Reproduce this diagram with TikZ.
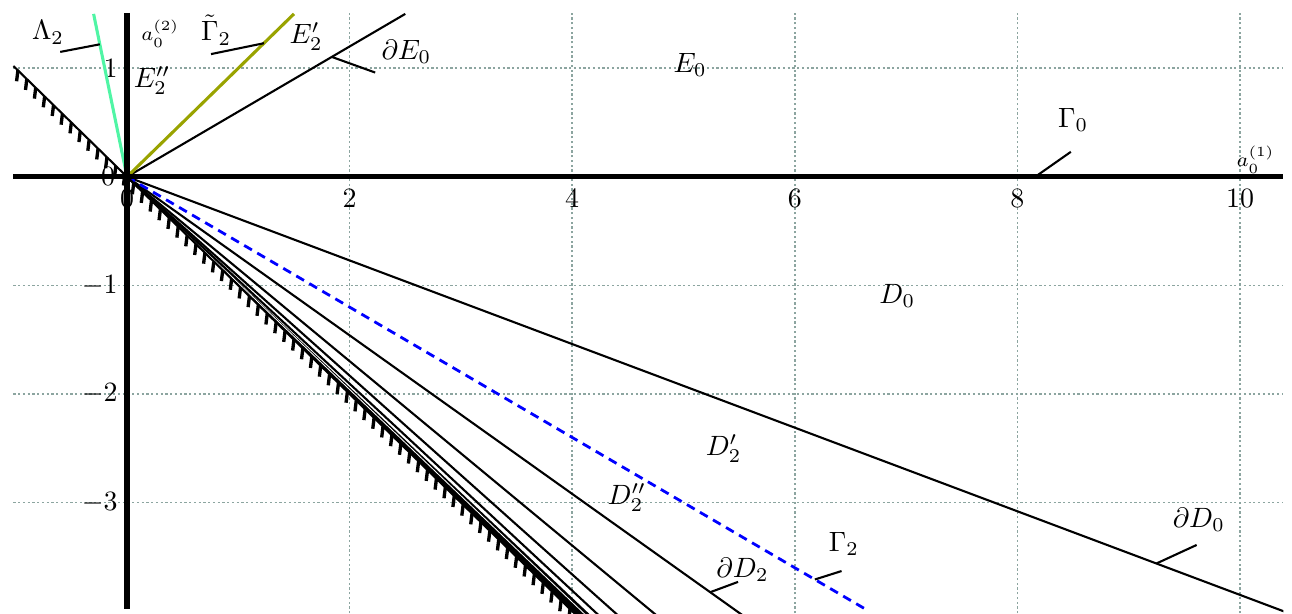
\documentclass[tikz,border=0pt]{standalone}
\definecolor{gridc}{RGB}{140,165,160}
\definecolor{lam}{RGB}{80,245,165}
\definecolor{oliv}{RGB}{153,163,0}
\begin{document}
\begin{tikzpicture}[x=1.4cm,y=1.366cm,
  thinl/.style={line width=0.75pt, black},
  hatchl/.style={line width=1.2pt, black},
  axisl/.style={line width=1.9pt, black},
  gridl/.style={gridc, line width=0.55pt, dash pattern=on 0.8pt off 0.9pt},
  ptr/.style={line width=0.75pt, black},
  smalllbl/.style={font=\scriptsize}]
\useasboundingbox (-1.141,-4.02) rectangle (10.467,1.628);
\coordinate (O) at (0,0);
% grid
\foreach \x in {2,4,...,10} \draw[gridl] (\x,-4.02) -- (\x,1.51);
\foreach \y in {-3,-2,-1,1} \draw[gridl] (-1.02,\y) -- (10.39,\y);
% tick labels
\foreach \x in {0,2,4,...,10} \node (tx\x) at (\x,-0.2) {$\x$};
\node (ty0) at (-0.17,0) {$0$};
\node[anchor=east, inner sep=0pt] (ty1) at (-0.08,1) {$1$};
\foreach \y/\n in {-1/a,-2/b,-3/c} \node[anchor=east, inner sep=0pt] (ty\n) at (-0.08,\y) {$\y$};
% lower family of lines
\begin{scope}
\clip (-1.03,-4.02) rectangle (10.39,1.51);
\fill[black] (O) -- (4.2,-4.2) -- ({4.2/0.969},-4.2) -- cycle;
\draw[white, line width=0.3pt] (O) -- ({4.2/0.979},-4.2);
\foreach \k in {0,...,3} {
  \pgfmathsetmacro\s{1-0.27*0.56^\k}
  \draw[thinl] (O) -- ({4.2/\s},-4.2);
}
\draw[thinl] (O) -- (10.5,{-0.385*10.5});
\draw[blue, line width=1pt, dash pattern=on 3.2pt off 2.2pt] (O) -- (6.65,-3.99);
\draw[thinl] (-1.02,1.02) -- (4.2,-4.2);
\foreach \t in {-0.98,-0.9,...,4.2} \draw[hatchl] (\t,-\t) -- ++(-0.012,-0.1);
\end{scope}
% upper lines
\draw[thinl] (O) -- (2.5,1.5);
\draw[oliv, line width=1.1pt] (O) -- (1.5,1.5);
\draw[lam, line width=1.1pt] (O) -- (-0.3,1.5);
% axes
\draw[axisl] (-1.02,0) -- (10.39,0);
\draw[axisl] (0,1.51) -- (0,-3.98);
% labels
\node (lE0) at (5.06,1.03) {$E_0$};
\node (lD0) at (6.92,-1.095) {$D_0$};
\node (lD2p) at (5.36,-2.50) {$D'_2$};
\node (lD2pp) at (4.49,-2.95) {$D''_2$};
\node (lE2p) at (1.61,1.29) {$E'_2$};
\node (lE2pp) at (0.225,0.89) {$E''_2$};
\node (lLam) at (-0.71,1.33) {$\Lambda_2$};
\node (lGt) at (0.80,1.35) {$\tilde\Gamma_2$};
\node (lG0) at (8.50,0.52) {$\Gamma_0$};
\node (lG2) at (6.44,-3.38) {$\Gamma_2$};
\node (ldE0) at (2.51,1.15) {$\partial E_0$};
\node (ldD2) at (5.53,-3.62) {$\partial D_2$};
\node (ldD0) at (9.63,-3.16) {$\partial D_0$};
\node[smalllbl] (la1) at (10.14,0.156) {$a_0^{(1)}$};
\node[smalllbl] (la2) at (0.30,1.32) {$a_0^{(2)}$};
% pointer lines
\coordinate (pLa) at (-0.60,1.15); \coordinate (pLb) at (-0.244,1.22);
\coordinate (pGa) at (0.755,1.13); \coordinate (pGb) at (1.23,1.23);
\coordinate (pEa) at (1.84,1.104); \coordinate (pEb) at (2.23,0.96);
\coordinate (pG0a) at (8.16,0); \coordinate (pG0b) at (8.48,0.23);
\coordinate (pD2a) at (5.24,-3.825); \coordinate (pD2b) at (5.49,-3.73);
\coordinate (pG2a) at (6.18,-3.708); \coordinate (pG2b) at (6.42,-3.63);
\coordinate (pD0a) at (9.25,-3.56); \coordinate (pD0b) at (9.61,-3.39);
\draw[ptr] (pLa) -- (pLb);
\draw[ptr] (pGa) -- (pGb);
\draw[ptr] (pEa) -- (pEb);
\draw[ptr] (pG0a) -- (pG0b);
\draw[ptr] (pD2a) -- (pD2b);
\draw[ptr] (pG2a) -- (pG2b);
\draw[ptr] (pD0a) -- (pD0b);
\end{tikzpicture}
\end{document}
